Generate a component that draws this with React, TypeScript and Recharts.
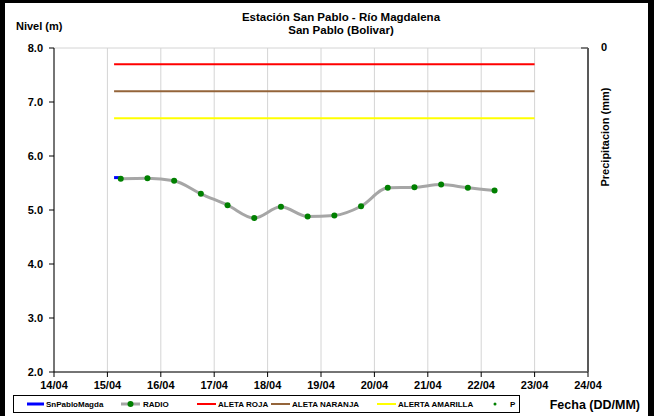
import React from 'react';
import { ComposedChart, Line, XAxis, YAxis, CartesianGrid, Customized } from 'recharts';

// ---- data ----
const dayLabels = ['14/04', '15/04', '16/04', '17/04', '18/04', '19/04', '20/04', '21/04', '22/04', '23/04', '24/04'];

const radioTimes = [
  '15/04 06:00', '15/04 18:00', '16/04 06:00', '16/04 18:00', '17/04 06:00',
  '17/04 18:00', '18/04 06:00', '18/04 18:00', '19/04 06:00', '19/04 18:00',
  '20/04 06:00', '20/04 18:00', '21/04 06:00', '21/04 18:00', '22/04 06:00',
];
const radioLevels = [5.58, 5.59, 5.54, 5.3, 5.09, 4.85, 5.06, 4.88, 4.9, 5.07, 5.41, 5.42, 5.47, 5.41, 5.36];

const sensorTimes = ['15/04 03:00', '15/04 06:00'];
const sensorLevels = [5.6, 5.6];

const alertSpan = ['15/04 03:00', '23/04 00:00'];
const alertaRoja = 7.7;
const alertaNaranja = 7.2;
const alertaAmarilla = 6.7;

const levelTicks = [2, 2.5, 3, 3.5, 4, 4.5, 5, 5.5, 6, 6.5, 7, 7.5, 8];
const precipTickLabel = '0';

// ---- helpers ----
const toDay = (s: string) => {
  const [d, t] = s.split(' ');
  const dd = Number(d.split('/')[0]);
  const [hh, mm] = t.split(':').map(Number);
  return dd - 14 + (hh + mm / 60) / 24;
};
const dayIdx = dayLabels.map((_, i) => i);

const radioData = radioTimes.map((t, i) => ({ x: toDay(t), y: radioLevels[i] }));
const sensorData = sensorTimes.map((t, i) => ({ x: toDay(t), y: sensorLevels[i] }));
const flat = (v: number) => alertSpan.map((t) => ({ x: toDay(t), y: v }));

const FONT = '"Liberation Sans", Arial, sans-serif';

const LeftTick = (props: any) => {
  const { x, y, payload } = props;
  if (Math.abs(payload.value % 1) > 1e-9) return null;
  return (
    <g>
      <line x1={x + 6} x2={x + 11} y1={y} y2={y} stroke="#000" strokeWidth={1} />
      <text x={x} y={y} dy={4} textAnchor="end" fontFamily={FONT} fontWeight="bold" fontSize={11} fill="#000">
        {payload.value.toFixed(1)}
      </text>
    </g>
  );
};

const BottomTick = (props: any) => {
  const { x, y, payload } = props;
  return (
    <text x={x} y={y} dy={8} textAnchor="middle" fontFamily={FONT} fontWeight="bold" fontSize={11} fill="#000">
      {dayLabels[payload.value]}
    </text>
  );
};

// precipitation axis top tick ("0" at the top of a reversed axis)
const PrecipTop = (props: any) => {
  const off = props.offset || {};
  const x = (off.left ?? 54) + (off.width ?? 534);
  const y = off.top ?? 48;
  return (
    <g>
      <line x1={x - 7} x2={x} y1={y} y2={y} stroke="#595959" strokeWidth={1.5} />
      <text x={x + 13} y={y} dy={3} textAnchor="start" fontFamily={FONT} fontWeight="bold" fontSize={11} fill="#000">
        {precipTickLabel}
      </text>
    </g>
  );
};

export default function App() {
  return (
    <div style={{ position: 'absolute', left: 0, top: 0, width: 654, height: 416, background: '#fff', overflow: 'hidden' }}>
      <ComposedChart width={654} height={416} margin={{ top: 48, right: 0, left: 0, bottom: 24 }}>
        <CartesianGrid stroke="#d4d4d4" strokeWidth={1} />
        <XAxis
          type="number"
          dataKey="x"
          domain={[0, 10]}
          ticks={dayIdx}
          interval={0}
          allowDataOverflow
          height={20}
          stroke="#000"
          tickSize={5}
          tickMargin={4}
          tick={<BottomTick />}
        />
        <YAxis
          yAxisId="n"
          domain={[2, 8]}
          ticks={levelTicks}
          interval={0}
          width={54}
          stroke="#000"
          tickLine={false}
          tickSize={5}
          tickMargin={6}
          tick={<LeftTick />}
        />
        <YAxis
          yAxisId="p"
          orientation="right"
          domain={[0, 10]}
          reversed
          width={66}
          stroke="#595959"
          strokeWidth={2}
          tickLine={false}
          tick={false}
        />
        <Line yAxisId="n" data={flat(alertaRoja)} dataKey="y" stroke="#ff0000" strokeWidth={2} dot={false} isAnimationActive={false} />
        <Line yAxisId="n" data={flat(alertaNaranja)} dataKey="y" stroke="#94643a" strokeWidth={2} dot={false} isAnimationActive={false} />
        <Line yAxisId="n" data={flat(alertaAmarilla)} dataKey="y" stroke="#ffff00" strokeWidth={2} dot={false} isAnimationActive={false} />
        <Line yAxisId="n" data={sensorData} dataKey="y" stroke="#0000ff" strokeWidth={3} dot={false} isAnimationActive={false} />
        <Line
          yAxisId="n"
          data={radioData}
          dataKey="y"
          type="monotone"
          stroke="#a6a6a6"
          strokeWidth={3}
          dot={{ r: 3, fill: '#008000', stroke: 'none' }}
          isAnimationActive={false}
        />
        <Customized component={PrecipTop} />
      </ComposedChart>

      <svg width={654} height={416} style={{ position: 'absolute', left: 0, top: 0, pointerEvents: 'none' }}>
        <g fontFamily={FONT} fontWeight="bold" fill="#000">
          <text x={341} y={21} fontSize={11.5} textAnchor="middle">Estación San Pablo - Río Magdalena</text>
          <text x={341} y={34} fontSize={11.5} textAnchor="middle">San Pablo (Bolivar)</text>
          <text x={16} y={30} fontSize={11}>Nivel (m)</text>
          <text x={640} y={409} fontSize={12.5} textAnchor="end">Fecha (DD/MM)</text>
          <text x={609} y={137} fontSize={11} textAnchor="middle" transform="rotate(-90 609 137)">Precipitacion (mm)</text>
        </g>
        {/* legend */}
        <rect x={13.5} y={395.5} width={506} height={17} fill="#fff" stroke="#000" strokeWidth={1} />
        <g fontFamily={FONT} fontWeight="bold" fontSize={8} fill="#000">
          <line x1={27} x2={44} y1={404} y2={404} stroke="#0000ff" strokeWidth={3} />
          <text x={46} y={407}>SnPabloMagda</text>
          <line x1={121} x2={140} y1={404} y2={404} stroke="#a6a6a6" strokeWidth={3} />
          <circle cx={130.5} cy={404} r={3} fill="#008000" />
          <text x={143} y={407}>RADIO</text>
          <line x1={197} x2={216} y1={404} y2={404} stroke="#ff0000" strokeWidth={2} />
          <text x={218} y={407}>ALETA ROJA</text>
          <line x1={271} x2={290} y1={404} y2={404} stroke="#94643a" strokeWidth={2} />
          <text x={292} y={407}>ALETA NARANJA</text>
          <line x1={377} x2={396} y1={404} y2={404} stroke="#ffff00" strokeWidth={2} />
          <text x={398} y={407}>ALERTA AMARILLA</text>
          <circle cx={495} cy={404} r={1.5} fill="#008000" />
          <text x={510} y={407}>P</text>
        </g>
        {/* outer frame */}
        <rect x={0} y={0} width={654} height={3} fill="#000" />
        <rect x={0} y={0} width={5} height={416} fill="#000" />
        <rect x={648} y={0} width={6} height={416} fill="#000" />
      </svg>
    </div>
  );
}
